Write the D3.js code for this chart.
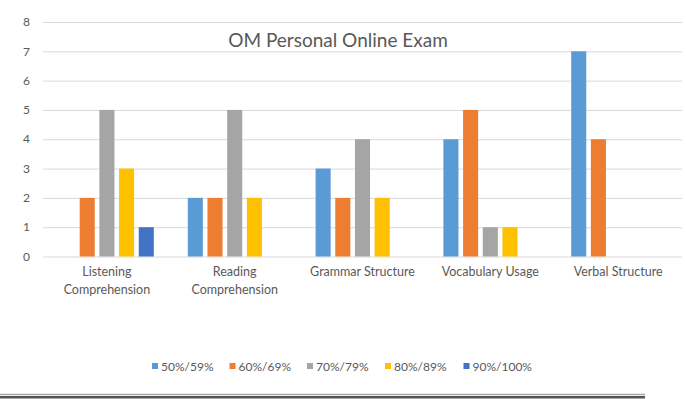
<!DOCTYPE html>
<html>
<head>
<meta charset="utf-8">
<script src="https://cdn.jsdelivr.net/npm/d3@7"></script>
<style>
  body { margin: 0; background: #fff; }
  text { font-family: Lato, "Open Sans", sans-serif; fill: #595959; }
  .grid line { stroke: #d9d9d9; }
  .grid path { display: none; }
</style>
</head>
<body>
<div id="chart"></div>
<script>
(function () {

    var categories = [["Listening", "Comprehension"], ["Reading", "Comprehension"],
        ["Grammar Structure"], ["Vocabulary Usage"], ["Verbal Structure"]];
    var series = ["50%/59%", "60%/69%", "70%/79%", "80%/89%", "90%/100%"];
    var colors = ["#5b9bd5", "#ed7d31", "#a5a5a5", "#ffc000", "#4472c4"];

    // one array per series, one value per category
    var s50 = [0, 2, 3, 4, 7];
    var s60 = [2, 2, 2, 5, 4];
    var s70 = [5, 5, 4, 1, 0];
    var s80 = [3, 2, 2, 1, 0];
    var s90 = [1, 0, 0, 0, 0];
    var values = [s50, s60, s70, s80, s90];

    var yTicks = [0, 1, 2, 3, 4, 5, 6, 7, 8];

    var width = 686, height = 399;
    var left = 43, right = 682, top = 22, bottom = 256.5;

    var svg = d3.select("#chart").append("svg")
        .attr("width", width)
        .attr("height", height);

    var catKeys = categories.map(function (c) { return c.join(" "); });

    //SCALES
    var x0 = d3.scaleBand().domain(catKeys).range([left, right]).padding(0);
    var gap = 17;
    var x1 = d3.scaleBand().domain(series)
        .range([gap, x0.bandwidth() - gap])
        .paddingInner(0.235).paddingOuter(0);
    var y = d3.scaleLinear().domain([0, 8]).range([bottom, top]);

    //Y GRID
    svg.append("g")
        .attr("class", "grid")
        .attr("transform", "translate(" + left + ",0)")
        .call(d3.axisLeft(y).tickValues(yTicks).tickSize(-(right - left)).tickFormat(""));

    //Y LABELS
    svg.append("g").selectAll("text")
        .data(yTicks)
        .enter().append("text")
        .attr("x", 30)
        .attr("y", function (d) { return y(d); })
        .attr("dy", "0.35em")
        .attr("text-anchor", "end")
        .style("font-size", "12px")
        .text(function (d) { return d; });

    //BARS
    var groups = svg.append("g").selectAll("g")
        .data(catKeys)
        .enter().append("g")
        .attr("transform", function (d) { return "translate(" + x0(d) + ",0)"; });

    groups.selectAll("rect")
        .data(function (d, i) {
            return series.map(function (s, j) { return { s: s, v: values[j][i], c: colors[j] }; });
        })
        .enter().append("rect")
        .filter(function (d) { return d.v > 0; })
        .attr("x", function (d) { return x1(d.s); })
        .attr("width", x1.bandwidth())
        .attr("y", function (d) { return y(d.v); })
        .attr("height", function (d) { return y(0) - y(d.v); })
        .attr("fill", function (d) { return d.c; });

    //X LABELS
    var xl = svg.append("g").selectAll("text")
        .data(categories)
        .enter().append("text")
        .attr("text-anchor", "middle")
        .style("font-size", "12.5px")
        .attr("transform", function (d, i) {
            return "translate(" + (x0(catKeys[i]) + x0.bandwidth() / 2) + ",276)";
        });
    xl.selectAll("tspan")
        .data(function (d) { return d; })
        .enter().append("tspan")
        .attr("x", 0)
        .attr("y", function (d, i) { return i * 17.5; })
        .text(function (d) { return d; });

    //TITLE
    svg.append("text")
        .attr("x", 338)
        .attr("y", 47)
        .attr("text-anchor", "middle")
        .style("font-size", "19px")
        .text("OM Personal Online Exam");

    //LEGEND
    var legendX = [152, 229.5, 307, 385, 463.5];
    var legend = svg.append("g").selectAll("g")
        .data(series)
        .enter().append("g")
        .attr("transform", function (d, i) { return "translate(" + legendX[i] + ",363)"; });
    legend.append("rect")
        .attr("width", 6).attr("height", 6)
        .attr("fill", function (d, i) { return colors[i]; });
    legend.append("text")
        .attr("x", 9)
        .attr("y", 7.5)
        .style("font-size", "12px")
        .text(function (d) { return d; });

    //BOTTOM RULE
    svg.append("line").attr("x1", 0).attr("x2", 645).attr("y1", 394.5).attr("y2", 394.5)
        .attr("stroke", "#a6a6a6").attr("stroke-width", 1.5);
    svg.append("line").attr("x1", 0).attr("x2", 645).attr("y1", 397.3).attr("y2", 397.3)
        .attr("stroke", "#555").attr("stroke-width", 2.6);

})();
</script>
</body>
</html>
